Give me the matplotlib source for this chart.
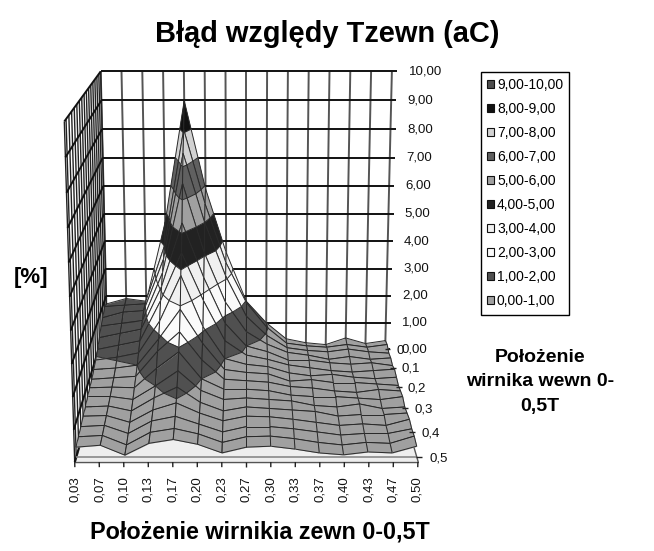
"""Excel-style banded 3D surface: Blad wzgledy Tzewn."""

import matplotlib
matplotlib.use("Agg")
import matplotlib.pyplot as plt
import numpy as np
from matplotlib.patches import Patch
from mpl_toolkits.mplot3d import proj3d
from mpl_toolkits.mplot3d.art3d import Line3DCollection, Poly3DCollection

plt.rcParams["font.family"] = ["Liberation Sans", "DejaVu Sans"]

x_labels = ["0,03", "0,07", "0,10", "0,13", "0,17", "0,20", "0,23", "0,27",
            "0,30", "0,33", "0,37", "0,40", "0,43", "0,47", "0,50"]
y_labels = ["0", "0,1", "0,2", "0,3", "0,4", "0,5"]
z_labels = ["0,00", "1,00", "2,00", "3,00", "4,00", "5,00",
            "6,00", "7,00", "8,00", "9,00", "10,00"]
band_labels = ["0,00-1,00", "1,00-2,00", "2,00-3,00", "3,00-4,00", "4,00-5,00",
               "5,00-6,00", "6,00-7,00", "7,00-8,00", "8,00-9,00", "9,00-10,00"]
band_colors = ["#A0A0A0", "#505050", "#FAFAFA", "#F0F0F0", "#222222",
               "#A0A0A0", "#606060", "#D2D2D2", "#111111", "#4D4D4D"]

# error [%], one list per rotor position along x, back row first
col_00 = [1.7, 1.8, 1.6, 1.5, 1.3, 1.1, .95, .85, .75, .7, .65, .55, .5, .42, .36, .30]
col_01 = [1.9, 1.85, 1.8, 1.6, 1.45, 1.25, 1.05, .9, .8, .72, .65, .58, .52, .46, .4, .36]
col_02 = [1.8, 1.9, 1.85, 1.7, 1.6, 1.4, 1.2, 1.0, .85, .7, .55, .42, .3, .2, .1, .05]
col_03 = [4.7, 4.0, 3.7, 3.4, 3.1, 2.8, 2.3, 1.9, 1.7, 1.35, 1.0, .85, .7, .6, .5, .42]
col_04 = [8.99, 8.1, 7.4, 6.5, 5.3, 4.45, 3.85, 2.9, 2.35, 1.9, 1.5, 1.2, .93, .75, .62, .54]
col_05 = [5.9, 5.5, 5.0, 4.1, 3.4, 2.8, 2.1, 1.75, 1.4, 1.0, .85, .7, .6, .5, .45, .39]
col_06 = [3.6, 3.4, 3.1, 2.35, 1.8, 1.4, 1.0, .85, .75, .65, .55, .42, .35, .25, .18, .12]
col_07 = [1.8, 1.95, 1.65, 1.3, 1.0, .9, .8, .75, .7, .65, .6, .55, .5, .42, .36, .30]
col_08 = [1.0, 1.05, .95, .85, .8, .75, .72, .7, .65, .6, .55, .5, .48, .42, .38, .33]
col_09 = [.4, .45, .5, .55, .5, .55, .5, .45, .5, .45, .5, .45, .4, .35, .3, .24]
col_10 = [.25, .35, .4, .45, .5, .45, .4, .5, .45, .4, .35, .4, .3, .25, .18, .12]
col_11 = [.18, .3, .35, .3, .4, .35, .45, .4, .35, .4, .3, .25, .2, .15, .1, .06]
col_12 = [.43, .4, .45, .4, .35, .3, .35, .4, .3, .35, .4, .3, .25, .2, .18, .15]
col_13 = [.22, .3, .35, .3, .4, .35, .3, .35, .4, .3, .25, .3, .2, .2, .15, .12]
col_14 = [.33, .4, .3, .35, .3, .4, .35, .3, .35, .4, .3, .35, .4, .35, .38, .33]

Z = np.array([col_00, col_01, col_02, col_03, col_04, col_05, col_06, col_07,
              col_08, col_09, col_10, col_11, col_12, col_13, col_14]).T
n_rows, n_cols = Z.shape
y_rows = np.arange(n_rows) / 30.0
y_front = 0.52
x_end = n_cols - 1


def clip_band(poly, lo, hi):
    """Clip a (x, y, z) polygon to lo <= z <= hi."""
    for level, sign in ((lo, 1), (hi, -1)):
        out = []
        for a, b in zip(poly, poly[1:] + poly[:1]):
            da, db = sign * (a[2] - level), sign * (b[2] - level)
            if da >= 0:
                out.append(a)
            if da * db < 0:
                f = da / (da - db)
                out.append(tuple(p + f * (q - p) for p, q in zip(a, b)))
        poly = out
        if not poly:
            break
    return poly


fig = plt.figure(figsize=(6.54, 5.51), dpi=100)
ax = fig.add_axes([-31 / 654, 23 / 551, 540 / 654, 540 / 551], projection="3d",
                  proj_type="persp", focal_length=0.51)
ax.set_box_aspect((1, 1.055, 1.002))
ax.view_init(elev=14.3, azim=-90)
ax.set_axis_off()
ax.computed_zorder = False
ax.set_autoscale_on(False)
ax.set_xlim(0, x_end)
ax.set_ylim(y_front, 0)
ax.set_zlim(0, 10)


def put_text(x, y, z, label, **kwargs):
    """Text at a 3D point, kept upright on the screen."""
    px, py, _ = proj3d.proj_transform(x, y, z, ax.get_proj())
    ax.text2D(px, py, label, transform=ax.transData, fontsize=9.5, color="#111111",
              zorder=5000, **kwargs)


# floor
ax.add_collection3d(Poly3DCollection(
    [[(0, 0, 0), (x_end, 0, 0), (x_end, y_front, 0), (0, y_front, 0)]],
    facecolors="#EEEEEE", edgecolors="#555555", linewidths=1.0, zorder=1))

# walls
back_h = [[(0, 0, z), (x_end + 0.25, 0, z)] for z in range(11)]
back_v = [[(i, 0, 0), (i, 0, 10)] for i in range(n_cols)]
wall_h = [[(0, 0, z), (0, y_front, z)] for z in range(11)]
wall_v = [[(0, y, 0), (0, y, 10)] for y in list(y_rows) + [y_front]]
ax.add_collection3d(Line3DCollection(back_v, colors="#555555", linewidths=1.4, zorder=2))
ax.add_collection3d(Line3DCollection(wall_v, colors="#222222", linewidths=1.0, zorder=2))
ax.add_collection3d(Line3DCollection(back_h + wall_h, colors="#111111", linewidths=1.4, zorder=3))
ax.add_collection3d(Line3DCollection(
    [[(0, y_rows[-1], 0), (x_end, y_rows[-1], 0)]], colors="#888888", linewidths=1.2, zorder=3))

# surface, painted back to front
zorder = 4
col_order = sorted(range(n_cols - 1), key=lambda c: -abs(c + 0.5 - x_end / 2))
for r in range(n_rows - 1):
    for c in col_order:
        quad = [(c, y_rows[r], Z[r, c]), (c + 1, y_rows[r], Z[r, c + 1]),
                (c + 1, y_rows[r + 1], Z[r + 1, c + 1]), (c, y_rows[r + 1], Z[r + 1, c])]
        polys, colors, segs = [], [], []
        for b, color in enumerate(band_colors):
            part = clip_band(quad, float(b), float(b + 1))
            if len(part) < 3:
                continue
            polys.append(part)
            colors.append(color)
            for p, q in zip(part, part[1:] + part[:1]):
                if p[2] == q[2] == float(b + 1):
                    segs.append([p, q])
        ax.add_collection3d(Poly3DCollection(polys, facecolors=colors, edgecolors=colors,
                                             linewidths=0.2, zorder=zorder))
        segs += [[quad[i], quad[(i + 1) % 4]] for i in range(4)]
        ax.add_collection3d(Line3DCollection(segs, colors="#2a2a2a", linewidths=0.7,
                                             zorder=zorder + 1))
        zorder += 2

# ticks and tick labels
x_ticks = [[(i, y_front, 0), (i, y_front, -0.16)] for i in range(n_cols)]
y_ticks = [[(x_end, r, 0), (x_end + 0.25, r, 0)] for r in y_rows[::3]]
ax.add_collection3d(Line3DCollection(x_ticks + y_ticks, colors="#222222", linewidths=1.0,
                                     zorder=zorder))
for i, label in enumerate(x_labels):
    put_text(i, y_front, -0.45, label, rotation=90, ha="center", va="top")
for y, label in zip(y_rows[::3], y_labels):
    put_text(x_end + 0.55, y, -0.05, label, ha="left", va="center")
for z, label in enumerate(z_labels):
    put_text(x_end + 0.8, 0, z, label, ha="left", va="center")

fig.text(327 / 654, 1 - 34 / 551, "Błąd względy Tzewn (aC)", ha="center", va="center",
         fontsize=20.9, fontweight="bold")
fig.text(31 / 654, 1 - 277 / 551, "[%]", ha="center", va="center",
         fontsize=16, fontweight="bold")
fig.text(260 / 654, 1 - 532 / 551, "Położenie wirnikia zewn 0-0,5T", ha="center", va="center",
         fontsize=16.8, fontweight="bold")
fig.text(540 / 654, 1 - 382 / 551, "Położenie\nwirnika wewn 0-\n0,5T", ha="center", va="center",
         fontsize=14, fontweight="bold", linespacing=1.6)

handles = [Patch(facecolor=c, edgecolor="#111111", linewidth=0.8, label=t)
           for c, t in zip(band_colors[::-1], band_labels[::-1])]
fig.legend(handles=handles, loc="upper left", bbox_to_anchor=(481 / 654, 1 - 72 / 551),
           fontsize=10, frameon=True, fancybox=False, edgecolor="black", framealpha=1,
           handlelength=0.5, handleheight=0.5, handletextpad=0.2, labelspacing=0.72,
           borderpad=0.45, borderaxespad=0)

fig.savefig("out.png", dpi=100)
